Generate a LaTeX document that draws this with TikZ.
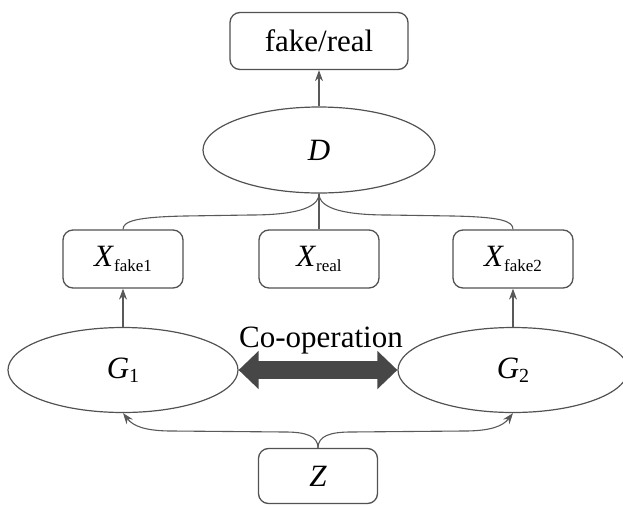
\documentclass[tikz,border=0pt]{standalone}
\usepackage{fontspec}
\setmainfont{Liberation Serif}
\usetikzlibrary{arrows.meta, shapes.geometric}
\newcommand{\lowsub}[1]{\raisebox{-2.2pt}{\fontsize{8.5}{10}\selectfont #1}}

\begin{document}
\begin{tikzpicture}[x=0.5pt, y=-0.5pt, >=Stealth,
                box/.style={draw=black!68, line width=0.65pt, rounded corners=5pt,
                    minimum width=60pt, minimum height=29pt, inner sep=0pt,
                    font=\fontsize{15.5}{18}\selectfont},
                oval/.style={ellipse, draw=black!68, line width=0.6pt,
                    minimum width=115pt, minimum height=42.5pt, inner sep=0pt,
                    font=\fontsize{15.5}{18}\selectfont},
                link/.style={draw=black!65, line width=0.55pt},
                feed/.style={link, -{Stealth[length=5.5pt, width=4pt]}},
                coop arrow/.style={draw=black!72, line width=9pt,
                    {Triangle[length=10pt, width=18.5pt]}-{Triangle[length=10pt, width=18.5pt]}}
            ]

            \useasboundingbox (0,0) rectangle (623,505);

            % nodes
            \node[box, minimum width=89pt, minimum height=28.5pt] (out) at (319,41) {fake/real};
            \node[oval, minimum width=116pt, minimum height=43pt] (D) at (319,150) {\textit{D}};
            \node[box] (xf1) at (123,259) {\textit{X}\lowsub{fake1}};
            \node[box] (xr) at (319,259) {\textit{X}\lowsub{real}};
            \node[box] (xf2) at (513,259) {\textit{X}\lowsub{fake2}};
            \node[oval] (g1) at (123,370) {\textit{G}\lowsub{\fontsize{10}{12}\selectfont 1}};
            \node[oval] (g2) at (513,370) {\textit{G}\lowsub{\fontsize{10}{12}\selectfont 2}};
            \node[box, minimum width=59.5pt, minimum height=27.5pt] (z) at (318,476) {\textit{Z}};
            \node[anchor=base, font=\fontsize{15.5}{18}\selectfont] (coop) at (321,347) {Co-operation};

            % connectors
            \draw[feed] (D) -- (out);
            \draw[link] (D.south) -- (xr.north);
            \draw[link] (D.south) .. controls (319,209) and (292,215) .. (250,215)
                -- (185,216) .. controls (137,217) and (123,221) .. (xf1.north);
            \draw[link] (D.south) .. controls (319,209) and (346,215) .. (388,215)
                -- (453,216) .. controls (501,217) and (513,221) .. (xf2.north);
            \draw[feed] (g1) -- (xf1);
            \draw[feed] (g2) -- (xf2);
            \draw[feed] (z.north) .. controls (318,436) and (306,432) .. (285,432)
                -- (172,431) .. controls (145,431) and (133,426) .. (g1.south);
            \draw[feed] (z.north) .. controls (318,436) and (330,432) .. (351,432)
                -- (464,431) .. controls (491,431) and (503,426) .. (g2.south);
            \draw[coop arrow] (g1.east) -- (g2.west);
        \end{tikzpicture}
\end{document}
